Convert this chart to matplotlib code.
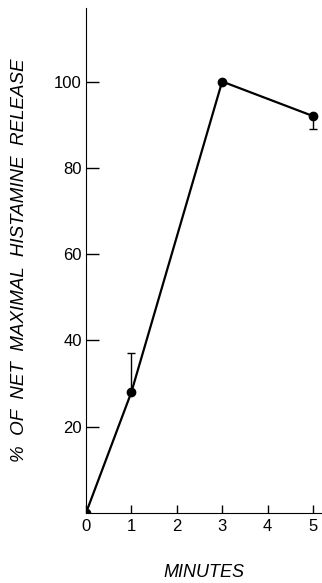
import matplotlib
matplotlib.use("Agg")
import matplotlib.pyplot as plt

minutes = [0, 1, 3, 5]
release = [0, 28, 100, 92]
err_up = [0, 9, 0, 0]
err_down = [0, 0, 0, 3]

plt.rcParams['font.family'] = ['Liberation Sans', 'DejaVu Sans']

fig = plt.figure(figsize=(3.22, 5.83), dpi=100)
ax = fig.add_axes([0.267, 0.12, 0.733, 0.866])

ax.plot(minutes, release, color='black', lw=1.6, marker='o', ms=6, zorder=3)
ax.errorbar(minutes, release, yerr=[err_down, err_up], fmt='none',
            ecolor='black', elinewidth=1, capsize=3, capthick=1)

ax.set_xlim(0, 5.2)
ax.set_ylim(0, 117)
ax.set_xticks([0, 1, 2, 3, 4, 5])
ax.set_yticks([20, 40, 60, 80, 100])
ax.tick_params(axis='y', direction='in', length=9, width=1, labelsize=12, pad=3)
ax.tick_params(axis='x', direction='in', length=6, width=1, labelsize=12, pad=4)
ax.spines['top'].set_visible(False)
ax.spines['right'].set_visible(False)

ax.set_xlabel('MINUTES', fontsize=13, style='italic', labelpad=22)
ax.set_ylabel('%  OF  NET  MAXIMAL  HISTAMINE  RELEASE', fontsize=13.5,
              style='italic')
ax.yaxis.set_label_coords(-0.245, 0.5)

fig.savefig('out.png', dpi=100)
